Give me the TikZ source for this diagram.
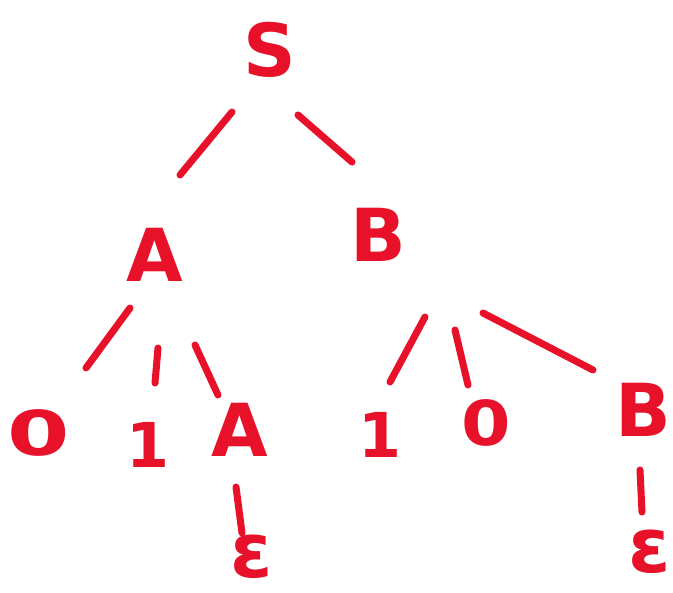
\documentclass[tikz,border=0pt]{standalone}
\usepackage{fontspec}
\setsansfont{DejaVu Sans}
\usetikzlibrary{calc}
\definecolor{pen}{RGB}{232,17,42}
\tikzset{
  sym/.style  = {text=pen, inner sep=0pt, font=\fontsize{52}{58}\selectfont\sffamily\bfseries},
  dig/.style  = {sym, font=\fontsize{44}{50}\selectfont\sffamily\bfseries},
  wide/.style = {dig, xscale=#1, transform shape},
  eps/.style  = {sym, font=\fontsize{54}{60}\selectfont\sffamily\bfseries},
  br/.style   = {draw=pen, line width=5pt, line cap=round},
}

\begin{document}
\begin{tikzpicture}[x=0.025cm, y=-0.025cm]
  \useasboundingbox (0,0) rectangle (673,593);

  % symbols
  \node[sym] (S)     at (270,50)  {S};
  \node[sym] (A)     at (155,255) {A};
  \node[sym] (B)     at (378,235) {B};
  \node[wide=1.45] (zeroL) at (39,433)  {0};
  \node[dig] (oneL)  at (148,445) {1};
  \node[sym] (Aa)    at (240,430) {A};
  \node[dig] (oneR)  at (380,435) {1};
  \node[wide=1.15] (zeroR) at (486,423) {0};
  \node[sym] (Bb)    at (643,410) {B};
  \node[eps] (epsA)  at (252,557) {ε};
  \node[eps] (epsB)  at (650,552) {ε};

  % branches
  \draw[br] ($(S)+(-38,62)$) -- ($(A)+(25,-80)$);
  \draw[br] ($(S)+(28,65)$) -- ($(B)+(-26,-73)$);
  \draw[br] ($(A)+(-25,53)$) -- ($(zeroL)+(47,-65)$);
  \draw[br] ($(A)+(3,93)$) -- ($(oneL)+(7,-62)$);
  \draw[br] ($(A)+(40,90)$) -- ($(Aa)+(-22,-35)$);
  \draw[br] ($(B)+(47,82)$) -- ($(oneR)+(10,-53)$);
  \draw[br] ($(B)+(77,95)$) -- ($(zeroR)+(-18,-38)$);
  \draw[br] ($(B)+(105,78)$) -- ($(Bb)+(-50,-40)$);
  \draw[br] ($(Aa)+(-4,57)$) -- ($(epsA)+(-10,-24)$);
  \draw[br] ($(Bb)+(-3,60)$) -- ($(epsB)+(-8,-40)$);
\end{tikzpicture}
\end{document}
